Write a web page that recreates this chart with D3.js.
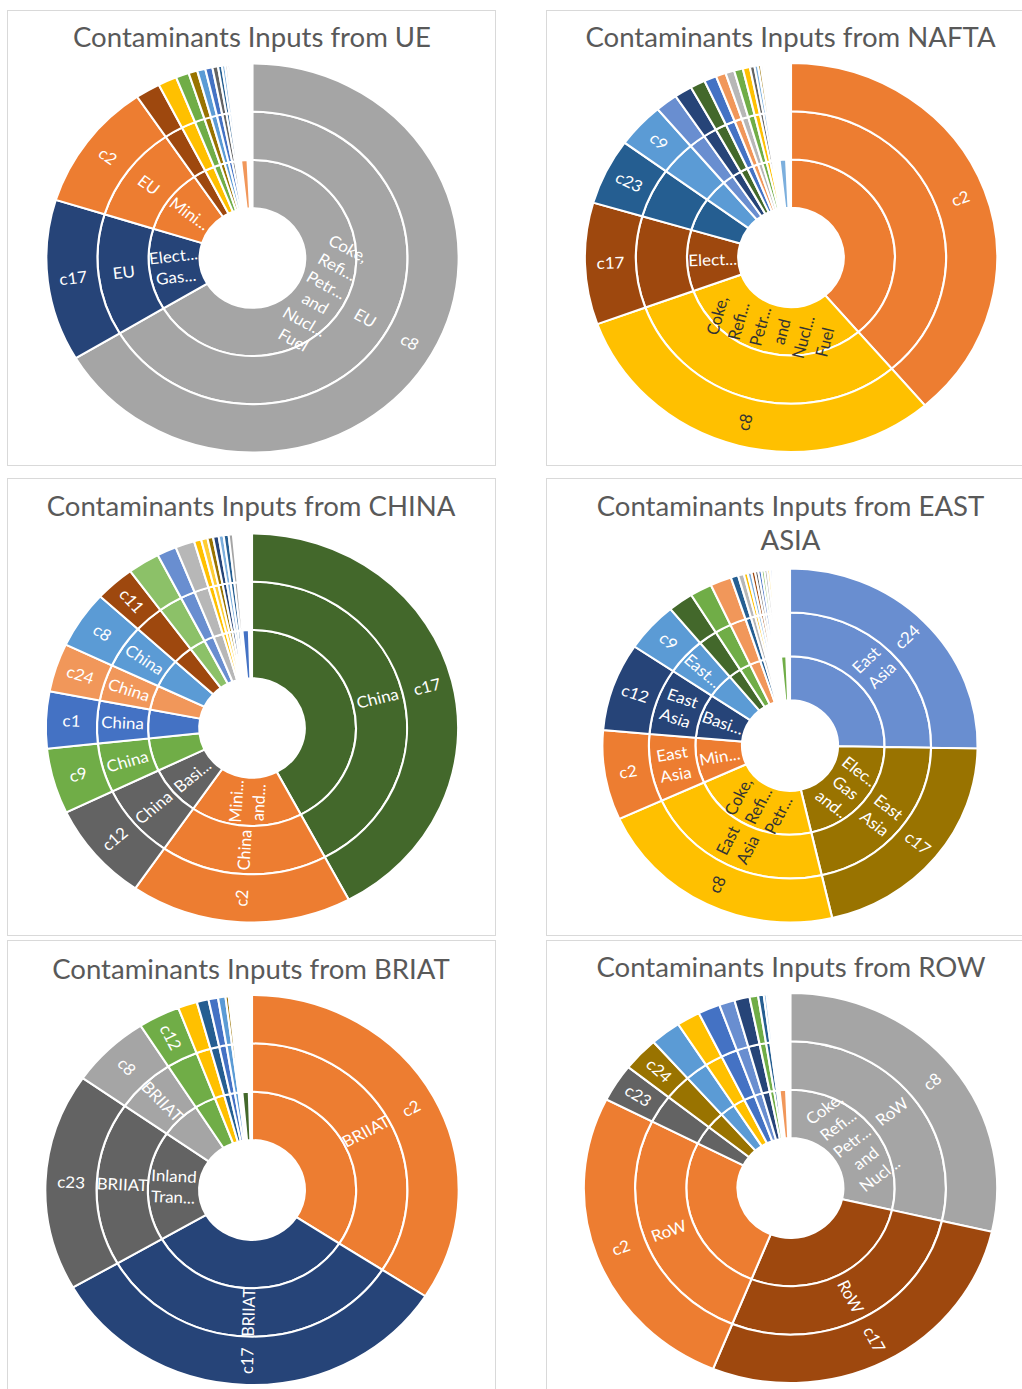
<!DOCTYPE html>
<html>
<head>
<meta charset="utf-8">
<script src="https://cdn.jsdelivr.net/npm/d3@7"></script>
<style>
  body { margin: 0; background: #fff; }
  svg text { font-family: Lato, "Open Sans", sans-serif; }
</style>
</head>
<body>
<svg id="chart" width="1022" height="1389"></svg>
<script>
// Office palette
const BLUE = "#4472C4", ORANGE = "#ED7D31", GRAY = "#A5A5A5", GOLD = "#FFC000",
      LBLUE = "#5B9BD5", GREEN = "#70AD47", NAVY = "#264478", BROWN = "#9E480E",
      DGRAY = "#636363", DGOLD = "#997300", DBLUE = "#255E91", DGREEN = "#43682B",
      MBLUE = "#698ED0", LORANGE = "#F1975A", LGRAY = "#B7B7B7", LGOLD = "#FFCD33",
      SKY = "#7CAFDD", LGREEN = "#8CC168";

// ---------- UE ----------
const ueCodes   = ["c8", "c17", "c2"];
const ueRegions = ["EU", "EU", "EU"];
const ueSectors = [["Coke,", "Refi...", "Petr...", "and", "Nucl...", "Fuel"], ["Elect...", "Gas..."], ["Mini..."]];
const ueShares  = [66.39, 13.44, 10.72, 1.94, 1.47, 1.03, 0.69, 0.64, 0.56, 0.44, 0.31, 0.25, 0.19, 0.17];
const ueOther   = 1.0;
const ueColors  = [GRAY, NAVY, ORANGE, BROWN, GOLD, GREEN, DGOLD, LBLUE, BLUE, DGRAY, DBLUE, SKY, LGRAY, MBLUE];
const ueOtherColor = LORANGE;

// ---------- NAFTA ----------
const naftaCodes   = ["c2", "c8", "c17", "c23", "c9"];
const naftaRegions = ["", "", "", "", ""];
const naftaSectors = [[], ["Coke,", "Refi...", "Petr...", "and", "Nucl...", "Fuel"], ["Elect..."], [], []];
const naftaShares  = [38.75, 30.69, 10.11, 5.50, 3.75, 1.75, 1.39, 1.17, 0.97, 0.78, 0.69, 0.69, 0.56, 0.36, 0.28, 0.22, 0.17, 0.14, 0.14, 0.14];
const naftaOther   = 1.0;
const naftaColors  = [ORANGE, GOLD, BROWN, DBLUE, LBLUE, MBLUE, NAVY, DGREEN, BLUE, LORANGE, LGRAY, GREEN, GOLD, DGRAY, SKY, DGOLD, DBLUE, GRAY, NAVY, BROWN];
const naftaOtherColor = SKY;

// ---------- CHINA ----------
const chinaCodes   = ["c17", "c2", "c12", "c9", "c1", "c24", "c8", "c11"];
const chinaRegions = ["China", "China", "China", "China", "China", "China", "China", ""];
const chinaSectors = [[], ["Mini...", "and..."], ["Basi..."], [], [], [], [], []];
const chinaShares  = [42.22, 17.36, 8.28, 5.44, 4.72, 4.03, 4.78, 3.11, 2.50, 1.53, 1.50, 0.56, 0.50, 0.44, 0.44, 0.39, 0.39, 0.33];
const chinaOther   = 1.0;
const chinaColors  = [DGREEN, ORANGE, DGRAY, GREEN, BLUE, LORANGE, LBLUE, BROWN, LGREEN, MBLUE, LGRAY, GOLD, LGOLD, DGOLD, NAVY, SKY, DBLUE, GRAY];
const chinaOtherColor = BLUE;

// ---------- EAST ASIA ----------
const eastCodes   = ["c24", "c17", "c8", "c2", "c12", "c9"];
const eastRegions = [["East", "Asia"], ["East", "Asia"], ["East", "Asia"], ["East", "Asia"], ["East", "Asia"], ["East..."]];
const eastSectors = [[], ["Elec..", "Gas", "and.."], ["Coke,", "Refi...", "Petr..."], ["Min..."], ["Basi..."], []];
const eastShares  = [25.28, 21.11, 21.81, 8.19, 8.06, 4.56, 2.17, 1.89, 1.83, 0.64, 0.50, 0.33, 0.33, 0.31, 0.28, 0.28, 0.25, 0.25, 0.22, 0.19];
const eastOther   = 0.9;
const eastColors  = [MBLUE, DGOLD, GOLD, ORANGE, NAVY, LBLUE, DGREEN, GREEN, LORANGE, DBLUE, LGRAY, GOLD, SKY, BROWN, DGRAY, BLUE, LGREEN, GRAY, LGOLD, MBLUE];
const eastOtherColor = GREEN;

// ---------- BRIAT ----------
const briatCodes   = ["c2", "c17", "c23", "c8", "c12"];
const briatRegions = ["BRIIAT", "BRIIAT", "BRIIAT", "BRIIAT", ""];
const briatSectors = [[], [], ["Inland", "Tran..."], [], []];
const briatShares  = [34.17, 32.50, 18.06, 6.22, 3.25, 1.50, 0.92, 0.75, 0.58, 0.25, 0.17, 0.14];
const briatOther   = 1.0;
const briatColors  = [ORANGE, NAVY, DGRAY, GRAY, GREEN, GOLD, DBLUE, BLUE, LBLUE, DGOLD, LGRAY, SKY];
const briatOtherColor = DGREEN;

// ---------- ROW ----------
const rowCodes   = ["c8", "c17", "c2", "c23", "c24"];
const rowRegions = ["RoW", "RoW", "RoW", "", ""];
const rowSectors = [["Coke,", "Refi...", "Petr...", "and", "Nucl..."], [], [], [], []];
const rowShares  = [28.61, 27.50, 26.39, 3.14, 2.83, 2.39, 1.83, 1.72, 1.22, 1.19, 0.67, 0.44, 0.22, 0.17];
const rowOther   = 1.0;
const rowColors  = [GRAY, BROWN, ORANGE, DGRAY, DGOLD, LBLUE, GOLD, BLUE, MBLUE, NAVY, GREEN, DBLUE, SKY, LGRAY];
const rowOtherColor = LORANGE;

const titles = [
  ["Contaminants Inputs from UE"],
  ["Contaminants Inputs from NAFTA"],
  ["Contaminants Inputs from CHINA"],
  ["Contaminants Inputs from EAST", "ASIA"],
  ["Contaminants Inputs from BRIAT"],
  ["Contaminants Inputs from ROW"]
];

const charts = [
  { codes: ueCodes, regions: ueRegions, sectors: ueSectors, shares: ueShares, other: ueOther, colors: ueColors, otherColor: ueOtherColor },
  { codes: naftaCodes, regions: naftaRegions, sectors: naftaSectors, shares: naftaShares, other: naftaOther, colors: naftaColors, otherColor: naftaOtherColor },
  { codes: chinaCodes, regions: chinaRegions, sectors: chinaSectors, shares: chinaShares, other: chinaOther, colors: chinaColors, otherColor: chinaOtherColor },
  { codes: eastCodes, regions: eastRegions, sectors: eastSectors, shares: eastShares, other: eastOther, colors: eastColors, otherColor: eastOtherColor },
  { codes: briatCodes, regions: briatRegions, sectors: briatSectors, shares: briatShares, other: briatOther, colors: briatColors, otherColor: briatOtherColor },
  { codes: rowCodes, regions: rowRegions, sectors: rowSectors, shares: rowShares, other: rowOther, colors: rowColors, otherColor: rowOtherColor }
];

// ---------- layout ----------
const SX = 1.06;          // the exported figure is slightly wider than tall
const HOLE = 0.256;       // hole radius as a fraction of the outer radius
const FONT = 16, LINE = 21;
const layout = [
  { panel: [7.5, 10.5, 488, 455],   title: [252, 47],    cx: 252.5, cy: 258,    R: 194.5 },
  { panel: [546.5, 10.5, 490, 455], title: [790.5, 47],  cx: 791,   cy: 257.5,  R: 194.5 },
  { panel: [7.5, 478.5, 488, 457],  title: [251, 516],   cx: 252,   cy: 728,    R: 194.5 },
  { panel: [546.5, 478.5, 490, 457],title: [790.5, 516], cx: 790,   cy: 745.5,  R: 177 },
  { panel: [7.5, 940.5, 488, 470],  title: [251, 979],   cx: 252,   cy: 1190,   R: 195 },
  { panel: [546.5, 940.5, 490, 470],title: [791, 977],   cx: 790.5, cy: 1188,   R: 195 }
];

const svg = d3.select("#chart");

function textColor(fill) {
  const c = d3.rgb(fill);
  return (0.299 * c.r + 0.587 * c.g + 0.114 * c.b) > 175 ? "#333333" : "#ffffff";
}

function addLabel(g, lines, angle, r, fill) {
  if (!lines || lines.length === 0) return;
  const deg = angle * 180 / Math.PI;
  const rot = deg < 180 ? deg - 90 : deg - 270;
  const x = r * Math.sin(angle), y = -r * Math.cos(angle);
  const t = g.append("text")
    .attr("transform", `translate(${x},${y}) rotate(${rot})`)
    .attr("text-anchor", "middle")
    .attr("fill", textColor(fill))
    .style("font-size", FONT + "px");
  lines.forEach((l, k) => {
    t.append("tspan")
      .attr("x", 0)
      .attr("y", (k - (lines.length - 1) / 2) * LINE)
      .attr("dy", "0.35em")
      .text(l);
  });
}

charts.forEach((c, i) => {
  const L = layout[i];
  const [px, py, pw, ph] = L.panel;

  svg.append("rect")
    .attr("x", px).attr("y", py).attr("width", pw).attr("height", ph)
    .attr("fill", "#fff").attr("stroke", "#d9d9d9").attr("stroke-width", 1);

  // title
  const tg = svg.append("g").attr("transform", `translate(${L.title[0]},${L.title[1]}) scale(${SX},1)`);
  titles[i].forEach((line, k) => {
    tg.append("text")
      .attr("x", 0).attr("y", k * 34)
      .attr("text-anchor", "middle")
      .attr("fill", "#595959")
      .style("font-size", "26px")
      .text(line);
  });

  // rings
  const g = svg.append("g").attr("transform", `translate(${L.cx},${L.cy}) scale(${SX},1)`);
  const hole = L.R * HOLE;
  const band = (L.R - hole) / 3;
  const radii = [hole, hole + band, hole + 2 * band, L.R];

  const n = c.shares.length;
  const blank = Math.max(0, 100 - d3.sum(c.shares) - c.other);
  const arcsData = d3.pie().sort(null).value(d => d)([...c.shares, c.other, blank]);

  // ring 0 = sector, ring 1 = region, ring 2 = code
  for (let ring = 0; ring < 3; ring++) {
    const arc = d3.arc().innerRadius(radii[ring]).outerRadius(radii[ring + 1]);
    const count = ring === 0 ? n + 1 : n;
    g.append("g")
      .selectAll("path")
      .data(arcsData.slice(0, count))
      .join("path")
      .attr("d", arc)
      .attr("fill", (d, k) => k < n ? c.colors[k] : c.otherColor)
      .attr("stroke", "#fff")
      .attr("stroke-width", 2);
  }

  // labels
  arcsData.slice(0, n).forEach((d, k) => {
    const mid = (d.startAngle + d.endAngle) / 2;
    const fill = c.colors[k];
    const sector = c.sectors[k];
    const region = c.regions[k];
    const code = c.codes[k];
    if (sector) addLabel(g, sector, mid, (radii[0] + radii[1]) / 2, fill);
    if (region) addLabel(g, Array.isArray(region) ? region : [region], mid, (radii[1] + radii[2]) / 2, fill);
    if (code) addLabel(g, [code], mid, (radii[2] + radii[3]) / 2, fill);
  });
});
</script>
</body>
</html>
